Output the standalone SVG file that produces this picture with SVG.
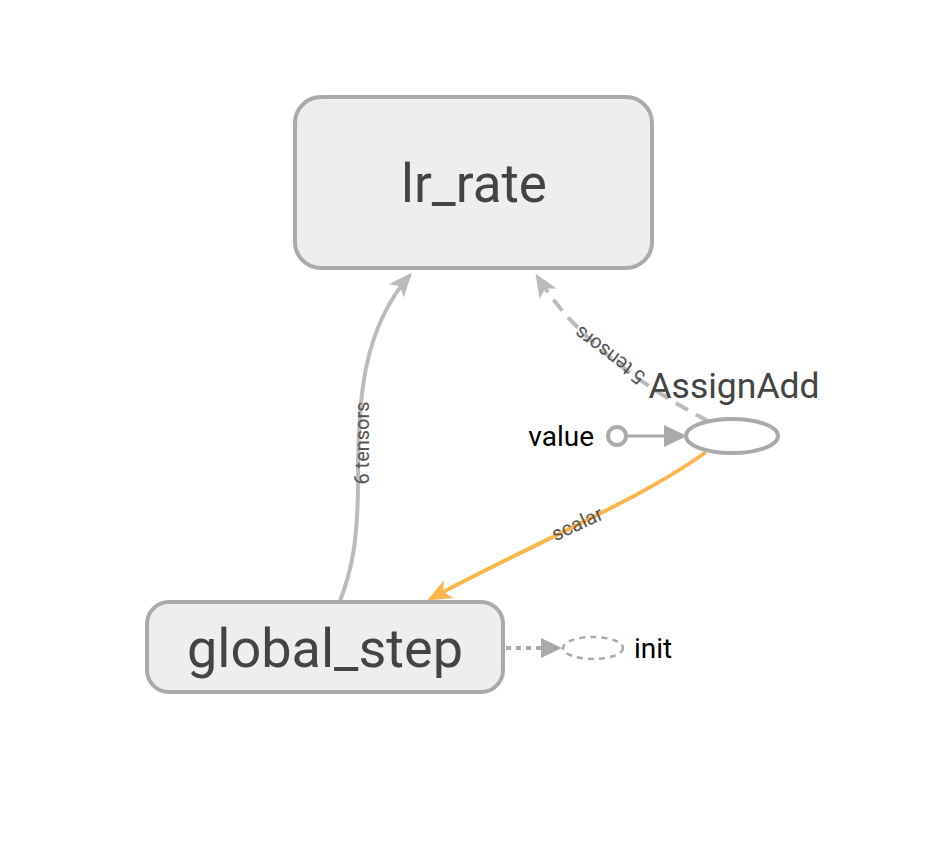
<svg xmlns="http://www.w3.org/2000/svg" width="926" height="846" viewBox="0 0 926 846">
<style>
.box{fill:#eeeeee;stroke:#aaaaaa;stroke-width:4}
.big{font-family:Roboto,"Liberation Sans",sans-serif;fill:#444;text-anchor:middle}
.lbl{font-family:Roboto,"Liberation Sans",sans-serif;fill:#555;font-size:20px;text-anchor:middle}
.nm{font-family:Roboto,"Liberation Sans",sans-serif;fill:#000;font-size:28px}
.edge{fill:none;stroke:#bbbbbb;stroke-width:4}
</style>
<defs>
<marker id="ag" viewBox="0 0 24 22" refX="21" refY="11" markerWidth="24" markerHeight="22" markerUnits="userSpaceOnUse" orient="auto"><path d="M0,1 L24,11 L0,21 L6,11 z" fill="#bbbbbb"/></marker>
<marker id="ao" viewBox="0 0 24 22" refX="21" refY="11" markerWidth="24" markerHeight="22" markerUnits="userSpaceOnUse" orient="auto"><path d="M0,1 L24,11 L0,21 L6,11 z" fill="#ffb74d"/></marker>
</defs>
<g id="connectors">
<path class="edge" d="M340,601 C352,570 358,540 358,480 C358,400 362,330 410,275" marker-end="url(#ag)"/>
<path class="edge" stroke-dasharray="14,9" d="M708,421 C650,390 580,345 537,276" marker-end="url(#ag)"/>
<path fill="none" stroke="#ffb74d" stroke-width="4" d="M706,452 C640,500 540,540 430,599" marker-end="url(#ao)"/>
<line x1="626" y1="436" x2="672" y2="436" stroke="#aaaaaa" stroke-width="3"/>
<path d="M664,425 L687,436 L664,447 z" fill="#aaaaaa"/>
<line x1="506" y1="648" x2="546" y2="648" stroke="#aaaaaa" stroke-width="4" stroke-dasharray="5,5"/>
<path d="M541,638 L562,648 L541,658 z" fill="#aaaaaa"/>
<text class="lbl" transform="translate(369,443) rotate(-90)">6 tensors</text>
<text class="lbl" transform="translate(614,350) rotate(-143)">5 tensors</text>
<text class="lbl" transform="translate(580,530) rotate(-25)">scalar</text>
</g>
<g id="lr_rate">
<rect class="box" x="295" y="97" width="357" height="171" rx="26"/>
<text class="big" x="474" y="202" font-size="53">lr_rate</text>
</g>
<g id="global_step">
<rect class="box" x="147" y="602" width="356" height="90" rx="22"/>
<text class="big" x="325" y="667" font-size="54">global_step</text>
</g>
<g id="AssignAdd">
<ellipse cx="732" cy="436" rx="46" ry="17" fill="#fff" stroke="#aaaaaa" stroke-width="4"/>
<text class="big" x="734" y="398" font-size="35.5">AssignAdd</text>
</g>
<g id="value">
<circle cx="617" cy="436" r="9" fill="#fff" stroke="#aaaaaa" stroke-width="4"/>
<text class="nm" x="594" y="446" text-anchor="end">value</text>
</g>
<g id="init">
<ellipse cx="593" cy="648" rx="30" ry="11" fill="#fff" stroke="#aaaaaa" stroke-width="2.5" stroke-dasharray="6,5"/>
<text class="nm" x="634" y="658">init</text>
</g>
</svg>
